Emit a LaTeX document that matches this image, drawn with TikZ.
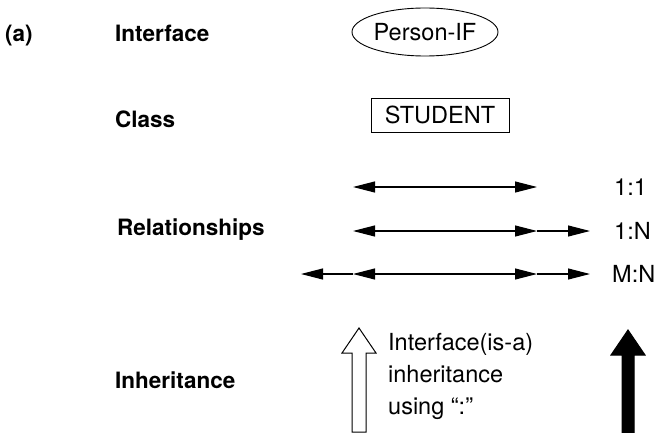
\documentclass[tikz,border=0pt]{standalone}
\usepackage{fontspec}
\setmainfont{TeX Gyre Heros}
\usetikzlibrary{arrows.meta,shapes.geometric}
\tikzset{
  lbl/.style={font=\fontsize{22.5}{26}\selectfont\bfseries, anchor=base west, inner sep=0pt},
  txt/.style={font=\fontsize{23.5}{27}\selectfont, inner sep=0pt},
  rel/.style={line width=1.1pt, -{Triangle[length=22pt,width=11pt]}},
  relb/.style={line width=1.1pt, {Triangle[length=22pt,width=11pt]}-{Triangle[length=22pt,width=11pt]}},
  thin/.style={line width=0.9pt}
}
\begin{document}
\begin{tikzpicture}[x=1pt,y=-1pt]
\useasboundingbox (0,0) rectangle (655,433);
% labels
\node[lbl] (a) at (5,42) {(a)};
\node[lbl] (lif) at (115,42) {Interface};
\node[lbl] (lcl) at (115,127) {Class};
\node[lbl] (lrel) at (117,235) {Relationships};
\node[lbl] (linh) at (115,388) {Inheritance};
% interface and class
\node[txt, thin, draw, ellipse, minimum width=146pt, minimum height=48pt] (pif) at (425,32) {Person-IF};
\node[txt, thin, draw, rectangle, minimum width=138pt, minimum height=34pt] (stu) at (440,115) {STUDENT};
% relationship coordinates
\coordinate (r1l) at (353,187);
\coordinate (r1r) at (537,187);
\coordinate (r2l) at (353,231);
\coordinate (r2m) at (537,231);
\coordinate (r2r) at (590,231);
\coordinate (r3o) at (301,274);
\coordinate (r3l) at (353,274);
\coordinate (r3m) at (537,274);
\coordinate (r3r) at (590,274);
\draw[relb] (r1l) -- (r1r);
\draw[relb] (r2l) -- (r2m);
\draw[rel] (r2m) -- (r2r);
\draw[rel] (r3l) -- (r3o);
\draw[relb] (r3l) -- (r3m);
\draw[rel] (r3m) -- (r3r);
\node[txt, anchor=west] (c11) at (614,187) {1:1};
\node[txt, anchor=west] (c1n) at (614,231) {1:N};
\node[txt, anchor=west] (cmn) at (612,274) {M:N};
% hollow inheritance arrow
\draw[line width=1pt, fill=white] (352,432) -- (352,353) -- (342,353) -- (359,328) -- (376,353) -- (366,353) -- (366,432) -- cycle;
\node[txt, align=left, anchor=north west, font=\fontsize{23.5}{32}\selectfont] (itxt) at (388,333) {Interface(is-a)\\inheritance\\using “:”};
% solid inheritance arrow
\draw[line width=1pt, fill=black] (622,433) -- (622,355) -- (611,355) -- (628,330) -- (645,355) -- (634,355) -- (634,433) -- cycle;
\end{tikzpicture}
\end{document}
